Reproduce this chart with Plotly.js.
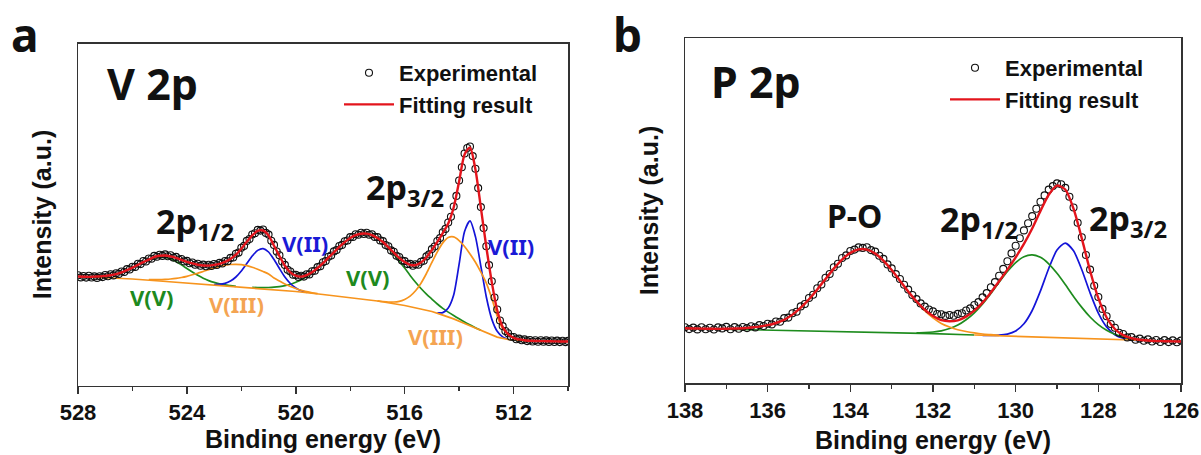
<!DOCTYPE html>
<html>
<head>
<meta charset="utf-8">
<title>XPS V 2p and P 2p</title>
<script src="https://cdn.plot.ly/plotly-3.0.1.min.js"></script>
<style>
html,body{margin:0;padding:0;background:#ffffff;}
#chart{width:1201px;height:455px;}
</style>
</head>
<body>
<div id="chart"></div>
<script>
// ================= DATA =================
// ---- Panel a : V 2p ----
const vExpStart = 528.0, vExpStep = 0.1;
const vExp = [
110.2,108.1,109.5,107.9,109.8,108.0,109.1,107.6,109.3,108.4,
110.5,109.2,111.2,110.1,112.3,111.6,114.0,113.5,116.4,116.0,
118.8,118.6,121.7,121.4,124.5,124.0,127.0,126.8,129.6,128.7,
130.8,129.6,131.1,129.3,130.2,127.9,128.6,126.0,126.5,124.1,
124.6,122.2,123.0,120.8,121.7,119.8,120.9,119.2,120.8,119.6,
121.5,120.5,122.6,122.0,124.5,124.3,127.6,128.0,131.8,133.0,
137.7,139.6,144.6,146.5,151.0,152.2,155.6,154.9,156.0,152.6,
150.9,144.8,140.6,134.0,130.3,124.0,120.6,115.7,114.0,110.8,
110.6,108.6,109.8,108.9,111.3,111.1,114.2,114.8,118.4,119.3,
123.2,124.5,128.7,130.0,134.1,135.4,139.5,140.6,144.3,145.0,
148.4,148.5,151.2,150.7,152.7,151.5,152.8,150.8,151.3,148.6,
148.4,145.1,144.4,140.5,139.2,135.1,133.8,129.7,128.5,124.9,
124.4,121.4,121.6,119.8,121.3,120.8,123.8,124.8,129.1,131.1,
136.4,139.0,144.5,147.4,153.3,156.6,163.0,168.7,179.0,189.6,
205.0,218.2,232.0,237.5,239.0,229.4,216.8,197.4,178.4,157.4,
139.3,120.4,104.2,88.0,76.0,65.0,59.4,54.5,52.2,48.8,
48.5,46.3,46.9,45.2,46.1,44.4,45.5,44.0,45.3,43.8,
45.2,43.7,45.1,43.6,45.0,43.5,44.9,43.4,44.8,43.4,44.6];
const vFitStart = 528.0, vFitStep = 0.2;
const vFit = [
109.0,108.8,108.6,108.9,109.1,109.6,110.3,111.4,113.1,115.3,
117.9,120.6,123.4,125.9,128.5,129.7,130.0,129.2,127.7,125.7,
123.7,122.1,120.8,120.0,119.9,120.6,121.7,123.6,126.6,130.8,
136.8,143.7,150.1,154.7,155.0,150.0,139.8,129.4,119.8,113.2,
109.8,108.9,110.4,113.3,117.5,122.3,127.8,133.2,138.6,143.4,
147.5,150.3,151.8,151.9,150.4,147.5,143.5,138.3,132.9,127.6,
123.5,120.7,120.4,122.9,128.2,135.5,143.6,152.4,162.0,178.0,
204.0,231.0,238.0,216.0,177.6,138.5,103.4,75.2,58.6,51.4,
47.7,46.1,45.3,44.7,44.5,44.4,44.3,44.2,44.1,44.0,44.0];
const vBgEnergy = [528,527,526,525,524,523,522,521,520,519,518,517,516,515,514.6,514.2,513.8,513.4,513,512.6,512.2,511.8,511,510];
const vBg = [109,108,106.5,104.5,102.5,100.5,98.5,96.5,94,91,88,84.5,80,74,70.4,66.6,62,57.2,52.4,48.4,46,45.1,44.4,44];
const compStep = 0.2;
// component curves (background + component): start energy, then values
const vV5_12_start = 527.4;
const vV5_12 = [108.9,109.1,109.6,110.3,111.4,113.1,115.3,117.9,120.6,123.4,125.9,127.6,128.4,128.0,126.4,123.9,120.6,117.0,113.5,110.2,107.3,104.9,103.1,101.7,100.6,99.8,99.1];
const vV3_12_start = 525.4;
const vV3_12 = [105.9,105.8,105.8,106.1,106.5,107.1,108.0,109.2,110.7,112.3,114.0,115.9,117.6,119.1,120.3,121.0,121.2,120.8,119.8,118.3,116.3,114.0,111.5,107.5,104.5,101.5,99.0,97.0,95.2,93.8,92.7,91.8];
const vV2_12_start = 523.0;
const vV2_12 = [100.9,101.1,102.1,104.4,108.5,114.5,122.0,129.5,135.1,136.9,133.5,126.0,117.0,108.5,102.0,97.5,94.7,93.2];
const vV5_32_start = 521.6;
const vV5_32 = [98.1,97.9,97.9,98.0,98.3,98.9,99.8,101.2,103.3,105.8,109.0,112.8,117.3,122.3,127.8,133.2,138.6,143.4,147.5,150.3,151.8,151.9,150.4,147.5,143.1,137.5,131.2,124.3,117.4,110.1,103.3,97.0,91.4,86.4,81.5,77.1,73.4,70.0,66.7,63.5,60.6,57.8,55.2];
const vV3_32_start = 517.0;
const vV3_32 = [84.7,84.0,83.5,83.5,84.2,86.1,89.4,94.7,102.3,112.0,123.1,133.7,142.6,148.0,148.6,144.9,139.0,131.6,123.2,113.3,102.4,87.2,69.4,57.0,51.0,47.7,46.1,45.3,44.7];
const vV2_32_start = 514.8;
const vV2_32 = [72.7,72.9,77.6,90.6,121.4,154.0,164.6,148.9,119.1,88.5,66.4,54.2,48.6,46.4];

// ---- Panel b : P 2p ----
const pExpStart = 138.0, pExpStep = 0.1;
const pExp = [
55.8,53.9,55.4,53.6,55.7,53.8,55.3,53.5,55.6,54.6,
56.1,53.8,55.9,54.2,56.0,54.9,56.8,55.6,57.9,57.0,
59.3,58.6,61.5,61.3,64.9,65.4,69.8,71.3,76.6,79.0,
85.0,88.2,94.8,98.5,105.3,109.0,115.7,119.2,125.0,127.6,
132.0,133.4,135.6,135.1,135.8,132.9,131.4,127.2,124.1,118.6,
114.6,108.9,104.0,98.2,93.4,88.0,83.9,79.6,76.4,73.5,
71.6,69.0,68.7,67.1,68.0,67.3,69.1,69.8,72.5,74.6,
78.0,80.9,85.6,89.9,95.8,100.9,107.3,114.1,121.8,129.6,
137.2,144.8,152.6,159.8,166.9,174.2,181.3,187.6,193.4,196.9,
199.6,198.8,195.1,186.2,175.5,160.3,145.7,128.0,113.4,97.3,
86.0,74.1,66.7,59.0,55.2,50.3,49.0,45.6,45.9,43.3,
44.4,42.2,43.6,41.5,43.0,41.0,42.9,40.9,42.6,40.8,42.4];
const pFitStart = 138.0, pFitStep = 0.2;
const pFit = [
54.7,54.5,54.4,54.2,54.1,54.3,54.5,54.8,55.5,56.4,
57.8,60.0,63.3,68.4,75.3,83.8,93.6,104.0,114.4,123.4,
130.1,133.6,133.4,129.5,122.4,113.0,102.3,91.5,81.7,73.3,
66.9,62.8,61.7,62.7,66.4,72.3,80.4,90.5,101.8,113.4,
125.7,139.1,154.5,172.0,188.2,197.4,193.5,174.3,144.6,112.3,
84.8,65.5,54.0,47.9,44.8,43.3,42.5,41.9,41.8,41.6,41.5];
const pBgEnergy = [138,137,136,135,134,133,132,131,130,129,128,127,126];
const pBg = [54.7,53.9,53.0,52.2,51.3,50.3,49.3,48.0,46.7,45.2,43.5,42.3,41.5];
const pPO_start = 136.6;
const pPO = [54.8,55.5,56.4,57.8,60.0,63.3,68.4,75.3,83.8,93.6,104.0,114.4,123.4,130.1,133.6,133.4,129.5,122.4,113.0,102.3,91.5,81.3,72.4,65.2,59.6,56.0,53.3,51.5,50.1,49.0,48.3,47.6];
const p12_start = 132.4;
const p12 = [50.1,50.4,51.0,52.2,54.5,57.9,63.2,70.2,79.1,89.6,100.8,111.5,120.4,126.3,128.1,125.7,119.2,109.7,98.5,86.6,75.6,66.0,58.4,52.7,48.7,46.0,44.2,43.2];
const p32_start = 130.8;
const p32 = [47.7,47.6,47.8,48.9,52.0,59.2,72.5,92.1,114.5,132.9,139.9,132.2,113.2,90.1,69.9,56.1,48.3,44.7,43.1,42.4];

const legendNames = ['Experimental', 'Fitting result'];
const xTitle = 'Binding energy (eV)';
const yTitle = 'Intensity (a.u.)';

// ================= HELPERS =================
function grid(start, step, n) {
  const a = [];
  for (let i = 0; i < n; i++) a.push(+(start - i * step).toFixed(3));
  return a;
}
const C = {
  red: '#e3141c', green: '#1e8c1e', blue: '#1414d8', orange: '#f7941d',
  orangeText: '#f4a452', greenText: '#1e8a1e', blueText: '#1a1ad6', axis: '#333333'
};
const FONT_AX = 'Liberation Sans, Arial, Helvetica, sans-serif';
const FONT_LB = 'Noto Sans, Open Sans, Liberation Sans, sans-serif';

function comp(start, vals, color, xa, ya, w) {
  return { x: grid(start, compStep, vals.length), y: vals, mode: 'lines', type: 'scatter',
    line: { color: color, width: w || 1.7, shape: 'spline', smoothing: 0.7 },
    xaxis: xa, yaxis: ya, showlegend: false, hoverinfo: 'skip' };
}
function bgLine(xs, ys, color, xa, ya, lo, hi) {
  const x = [], y = [];
  xs.forEach((e, i) => { if (e >= lo && e <= hi) { x.push(e); y.push(ys[i]); } });
  return { x: x, y: y, mode: 'lines', type: 'scatter', line: { color: color, width: 1.7 },
    xaxis: xa, yaxis: ya, showlegend: false, hoverinfo: 'skip' };
}
function expTrace(start, step, vals, xa, ya, lg) {
  return { x: grid(start, step, vals.length), y: vals, mode: 'markers', type: 'scatter',
    name: legendNames[0], legend: lg, xaxis: xa, yaxis: ya,
    marker: { symbol: 'circle-open', size: 7, color: '#111111', line: { width: 1.1 } } };
}
function fitTrace(start, step, vals, xa, ya, lg) {
  return { x: grid(start, step, vals.length), y: vals, mode: 'lines', type: 'scatter',
    name: legendNames[1], legend: lg, xaxis: xa, yaxis: ya,
    line: { color: C.red, width: 2.4, shape: 'spline', smoothing: 0.7 } };
}

// ================= TRACES =================
const traces = [
  comp(vV5_12_start, vV5_12, C.green, 'x', 'y'),
  comp(vV5_32_start, vV5_32, C.green, 'x', 'y'),
  comp(vV2_12_start, vV2_12, C.blue, 'x', 'y'),
  comp(vV2_32_start, vV2_32, C.blue, 'x', 'y'),
  comp(vV3_12_start, vV3_12, C.orange, 'x', 'y'),
  comp(vV3_32_start, vV3_32, C.orange, 'x', 'y'),
  bgLine(vBgEnergy, vBg, C.orange, 'x', 'y', 510, 528),
  expTrace(vExpStart, vExpStep, vExp, 'x', 'y', 'legend'),
  fitTrace(vFitStart, vFitStep, vFit, 'x', 'y', 'legend'),

  comp(p32_start, p32, C.blue, 'x2', 'y2'),
  comp(p12_start, p12, C.green, 'x2', 'y2'),
  comp(pPO_start, pPO, C.orange, 'x2', 'y2'),
  bgLine(pBgEnergy, pBg, C.green, 'x2', 'y2', 131, 138),
  bgLine(pBgEnergy, pBg, C.orange, 'x2', 'y2', 126, 131),
  expTrace(pExpStart, pExpStep, pExp, 'x2', 'y2', 'legend2'),
  fitTrace(pFitStart, pFitStep, pFit, 'x2', 'y2', 'legend2')
];

// ================= LAYOUT =================
const W = 1201, H = 455;
const boxA = { l: 78, r: 568, t: 43.5, b: 385.5 };
const boxB = { l: 685, r: 1181, t: 38, b: 383 };
function xd(b) { return [b.l / W, b.r / W]; }
function yd(b) { return [(H - b.b) / H, (H - b.t) / H]; }

function xAxis(b, range, dtick, minorDtick, yanchor, standoff) {
  return {
    domain: xd(b), range: range, anchor: yanchor, autorange: false,
    tickmode: 'linear', tick0: range[0], dtick: dtick,
    ticks: 'outside', ticklen: 7, tickwidth: 1.5, tickcolor: C.axis,
    minor: { dtick: minorDtick, tick0: range[0], ticks: 'outside', ticklen: 4, tickwidth: 1.3, tickcolor: C.axis, showgrid: false },
    showline: true, mirror: true, linecolor: C.axis, linewidth: 1.5,
    showgrid: false, zeroline: false, automargin: false,
    tickfont: { family: FONT_AX, size: 22, color: '#111', weight: 700 },
    title: { text: xTitle, font: { family: FONT_AX, size: 25, color: '#111', weight: 700 }, standoff: standoff }
  };
}
function yAxis(b, range, xanchor) {
  return {
    domain: yd(b), range: range, anchor: xanchor, autorange: false,
    showticklabels: false, ticks: '',
    showline: true, mirror: true, linecolor: C.axis, linewidth: 1.5,
    showgrid: false, zeroline: false, automargin: false,
    title: { text: yTitle, font: { family: FONT_AX, size: 25, color: '#111', weight: 700 }, standoff: 18 }
  };
}

function lab(text, x, y, color, size, xref, yref, yanchor) {
  return { text: text, x: x, y: y, xref: xref, yref: yref, showarrow: false,
    xanchor: 'center', yanchor: yanchor || 'middle',
    font: { family: FONT_LB, size: size, color: color, weight: 700 } };
}

const annotations = [
  lab('a', 25 / W, 1 - 1 / H, '#111', 46, 'paper', 'paper', 'top'),
  lab('b', 627 / W, 1 - 1 / H, '#111', 46, 'paper', 'paper', 'top'),
  lab('V\u00a02p', 0.153, 0.8845, '#111', 43, 'x domain', 'y domain'),
  lab('P\u00a02p', 0.143, 0.8725, '#111', 43, 'x2 domain', 'y2 domain'),
  lab('2p<sub>1/2</sub>', 523.7, 162.5, '#111', 34, 'x', 'y'),
  lab('2p<sub>3/2</sub>', 515.99, 196.5, '#111', 34, 'x', 'y'),
  lab('V(V)', 525.28, 88.5, C.greenText, 22, 'x', 'y'),
  lab('V(III)', 522.16, 81.5, C.orangeText, 22, 'x', 'y'),
  lab('V(II)', 519.66, 142.5, C.blueText, 22, 'x', 'y'),
  lab('V(V)', 517.35, 108.5, C.greenText, 22, 'x', 'y'),
  lab('V(III)', 514.85, 49.5, C.orangeText, 22, 'x', 'y'),
  lab('V(II)', 512.09, 139.5, C.blueText, 22, 'x', 'y'),
  lab('P-O', 133.89, 168, '#111', 32, 'x2', 'y2'),
  lab('2p<sub>1/2</sub>', 130.89, 162, '#111', 34, 'x2', 'y2'),
  lab('2p<sub>3/2</sub>', 127.28, 163, '#111', 34, 'x2', 'y2')
];

function legendBox(x, y) {
  return { x: x, y: y, xanchor: 'left', yanchor: 'top', bgcolor: 'rgba(0,0,0,0)', borderwidth: 0,
    font: { family: FONT_AX, size: 22, color: '#111', weight: 700 }, itemwidth: 50, tracegroupgap: 0 };
}

const layout = {
  width: W, height: H, margin: { l: 0, r: 0, t: 0, b: 0 },
  paper_bgcolor: '#ffffff', plot_bgcolor: '#ffffff',
  xaxis: xAxis(boxA, [528, 510], 4, 2, 'y', 6),
  yaxis: yAxis(boxA, [0, 342], 'x'),
  xaxis2: xAxis(boxB, [138, 126], 2, 1, 'y2', 9),
  yaxis2: yAxis(boxB, [0, 345], 'x2'),
  legend: legendBox(339 / W, 1 - 52 / H),
  legend2: legendBox(945 / W, 1 - 47 / H),
  annotations: annotations,
  hovermode: false
};

Plotly.newPlot('chart', traces, layout, { staticPlot: true, displayModeBar: false });
</script>
</body>
</html>
